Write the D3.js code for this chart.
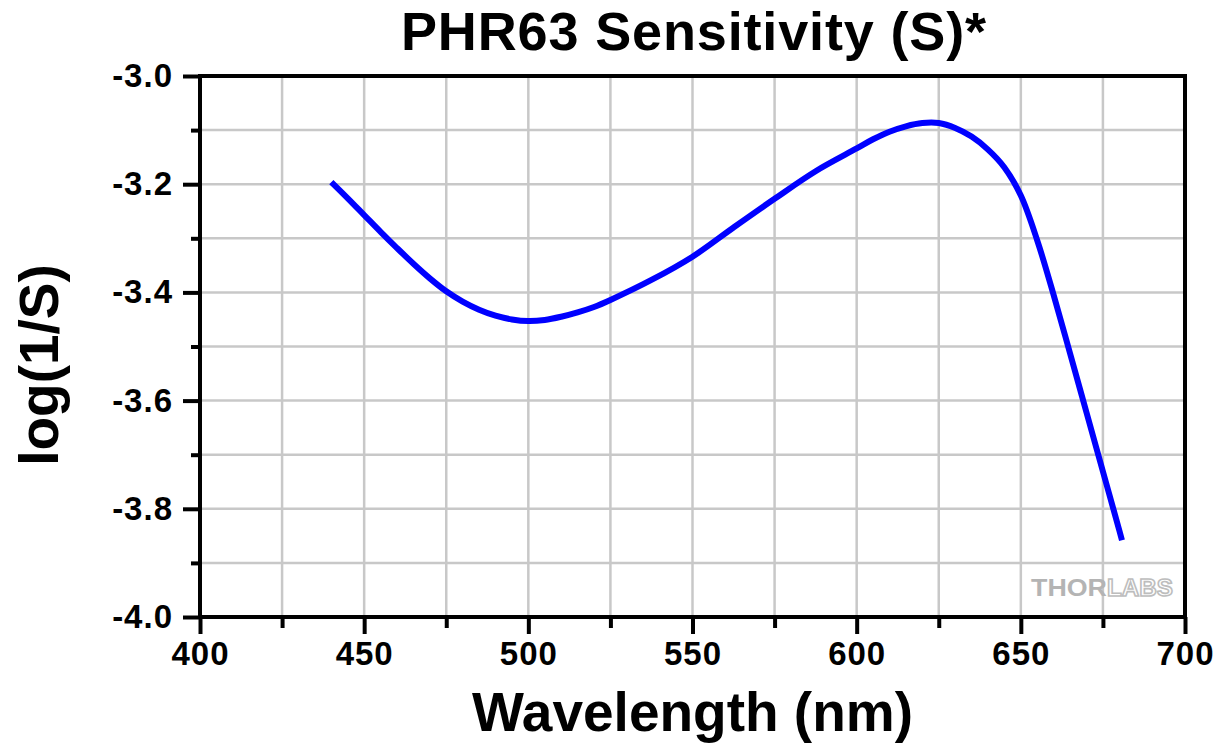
<!DOCTYPE html>
<html>
<head>
<meta charset="utf-8">
<script src="https://cdn.jsdelivr.net/npm/d3@7/dist/d3.min.js"></script>
<style>
  html, body { margin: 0; padding: 0; background: #fff; }
  svg { display: block; }
  text { font-family: "Liberation Sans", Arial, sans-serif; font-weight: bold; }
</style>
</head>
<body>
<svg id="chart" width="1230" height="748"></svg>
<script>
// ---- data ----
const wavelength = [440, 445, 450, 455, 460, 465, 470, 475, 480, 485, 490, 495, 500, 505, 510, 515, 520, 525,
  537.5, 550, 562.5, 575, 587.5, 600, 605, 610, 615, 620, 625, 630, 635, 640, 645, 650, 655, 660,
  665, 670, 675, 680, 680.8];
const logInvS = [-3.196, -3.226, -3.257, -3.288, -3.318, -3.347, -3.374, -3.398, -3.417, -3.432, -3.443, -3.450,
  -3.453, -3.451, -3.445, -3.437, -3.427, -3.414, -3.377, -3.334, -3.280, -3.227, -3.176, -3.134, -3.117,
  -3.103, -3.093, -3.087, -3.087, -3.096, -3.112, -3.136, -3.169, -3.221, -3.304, -3.405,
  -3.513, -3.622, -3.731, -3.840, -3.858];
const xMajorTicks = [400, 450, 500, 550, 600, 650, 700];
const xMinorTicks = [425, 475, 525, 575, 625, 675];
const yMajorTicks = [-3.0, -3.2, -3.4, -3.6, -3.8, -4.0];
const yMinorTicks = [-3.1, -3.3, -3.5, -3.7, -3.9];
const titleText = "PHR63 Sensitivity (S)*";
const xLabel = "Wavelength (nm)";
const yLabel = "log(1/S)";

// ---- layout ----
const L = 200, R = 1185, T = 76, B = 617;
const svg = d3.select("#chart");
const x = d3.scaleLinear().domain([400, 700]).range([L, R]);
const y = d3.scaleLinear().domain([-4.0, -3.0]).range([B, T]);

// grid
const grid = svg.append("g").attr("stroke", "#c8c8c8").attr("stroke-width", 2.5);
grid.selectAll("line.gx").data(xMajorTicks.concat(xMinorTicks).filter(d => d > 400 && d < 700))
  .join("line").attr("x1", d => x(d)).attr("x2", d => x(d)).attr("y1", T).attr("y2", B);
grid.selectAll("line.gy").data(yMajorTicks.concat(yMinorTicks).filter(d => d > -4.0 && d < -3.0))
  .join("line").attr("y1", d => y(d)).attr("y2", d => y(d)).attr("x1", L).attr("x2", R);

// watermark
const wm = svg.append("g");
wm.append("text").attr("x", 1031).attr("y", 596).attr("font-size", 24)
  .attr("textLength", 76).attr("lengthAdjust", "spacingAndGlyphs")
  .attr("fill", "#b4b4b4").text("THOR");
wm.append("text").attr("x", 1107).attr("y", 596).attr("font-size", 24)
  .attr("textLength", 66).attr("lengthAdjust", "spacingAndGlyphs")
  .attr("fill", "#ffffff").attr("stroke", "#bdbdbd").attr("stroke-width", 1.6).text("LABS");

// data line
const line = d3.line().x((d, i) => x(wavelength[i])).y((d, i) => y(logInvS[i])).curve(d3.curveCatmullRom.alpha(0.5));
svg.append("path").datum(logInvS).attr("d", line)
  .attr("fill", "none").attr("stroke", "#0000ff").attr("stroke-width", 6).attr("stroke-linejoin", "round");

// axes
const fmt = d => d.toFixed(1);
function styleAxis(g) {
  g.select(".domain").remove();
  g.selectAll(".tick line").attr("stroke", "#000").attr("stroke-width", 4);
  g.selectAll(".tick text").attr("fill", "#000").attr("font-size", 33)
    .attr("font-family", "'Liberation Sans', Arial, sans-serif").attr("font-weight", "bold")
    .attr("letter-spacing", 1);
}
svg.append("g").attr("transform", `translate(${L},0)`)
  .call(d3.axisLeft(y).tickValues(yMajorTicks).tickSize(17).tickPadding(10).tickFormat(fmt))
  .call(styleAxis);
svg.append("g").attr("transform", `translate(${L},0)`)
  .call(d3.axisLeft(y).tickValues(yMinorTicks).tickSize(9).tickFormat(""))
  .call(styleAxis);
svg.append("g").attr("transform", `translate(0,${B})`)
  .call(d3.axisBottom(x).tickValues(xMajorTicks).tickSize(17).tickPadding(8).tickFormat(d3.format("d")))
  .call(styleAxis);
svg.append("g").attr("transform", `translate(0,${B})`)
  .call(d3.axisBottom(x).tickValues(xMinorTicks).tickSize(11).tickFormat(""))
  .call(styleAxis);

// frame
svg.append("rect").attr("x", L).attr("y", T).attr("width", R - L).attr("height", B - T)
  .attr("fill", "none").attr("stroke", "#000").attr("stroke-width", 4);

// titles
svg.append("text").attr("x", (L + R) / 2 + 1).attr("y", 50).attr("text-anchor", "middle")
  .attr("font-size", 54).attr("textLength", 585).attr("lengthAdjust", "spacing").text(titleText);
svg.append("text").attr("x", (L + R) / 2).attr("y", 731).attr("text-anchor", "middle")
  .attr("font-size", 55).text(xLabel);
svg.append("text").attr("transform", "translate(58,365) rotate(-90)").attr("text-anchor", "middle")
  .attr("font-size", 55).text(yLabel);
</script>
</body>
</html>
